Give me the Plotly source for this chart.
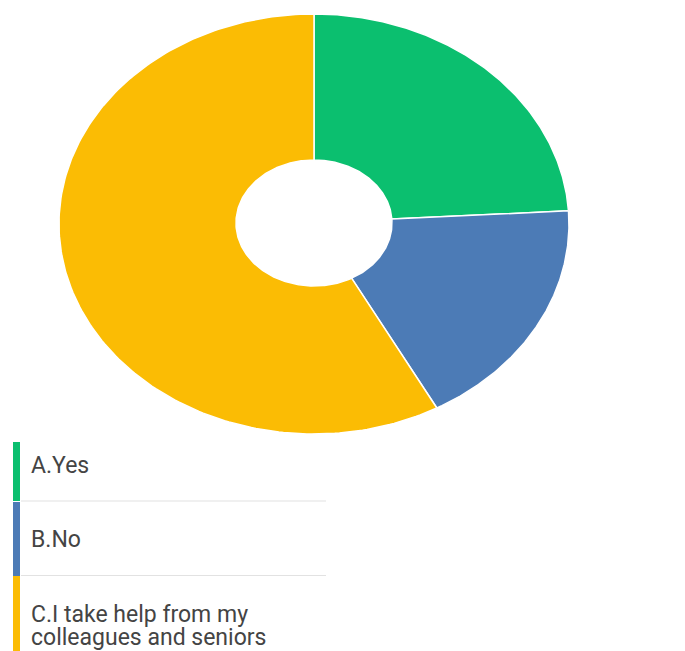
import numpy as np
import plotly.graph_objects as go

# Survey answers and their shares (percent)
labels = ["A.Yes", "B.No", "C.I take help from my colleagues and seniors"]
label_lines = [["A.Yes"], ["B.No"], ["C.I take help from my", "colleagues and seniors"]]
values = [24, 18, 58]
colors = ["#0BBF6F", "#4C7BB6", "#FBBC04"]

W, H = 685, 651
# Elliptical donut geometry (pixel space)
cx, cy = 314, 224
rx, ry = 255, 210
hole = 0.3

fig = go.Figure()

total = float(sum(values))
start = 0.0
for lab, val, col in zip(labels, values, colors):
    span = 2 * np.pi * val / total
    t = np.linspace(start, start + span, 200)
    xo = cx + rx * np.sin(t)
    yo = cy - ry * np.cos(t)
    tr = t[::-1]
    xi = cx + hole * rx * 1.02 * np.sin(tr)
    yi = cy - 1.0 - hole * ry * np.cos(tr)
    xs = np.concatenate([xo, xi, xo[:1]])
    ys = np.concatenate([yo, yi, yo[:1]])
    fig.add_trace(go.Scatter(
        x=xs, y=ys, mode="lines", fill="toself", fillcolor=col,
        line=dict(color="#FFFFFF", width=1.5), name=lab,
        hoverinfo="skip", showlegend=False,
    ))
    start += span

# Legend column: colour bars, separators and labels
rows = [(442, 501), (502, 576), (576, 651)]
shapes = []
annotations = []
for (y0, y1), col in zip(rows, colors):
    shapes.append(dict(type="rect", xref="x", yref="y", x0=13, x1=20, y0=y0, y1=y1,
                       fillcolor=col, line=dict(width=0), layer="above"))
for ys in (501, 575.5):
    shapes.append(dict(type="line", xref="x", yref="y", x0=21, x1=326, y0=ys, y1=ys,
                       line=dict(color="#E2E2E2", width=1.2), layer="above"))

line_y = [[465], [539], [614, 637.5]]
for lines, ys in zip(label_lines, line_y):
    for txt, yy in zip(lines, ys):
        annotations.append(dict(
            x=28.5, y=yy, xref="x", yref="y", text=txt, showarrow=False,
            xanchor="left", yanchor="middle", align="left",
            font=dict(family="Roboto", size=23, color="#444444"),
        ))

fig.update_layout(
    width=W, height=H,
    margin=dict(l=0, r=0, t=0, b=0),
    paper_bgcolor="white", plot_bgcolor="white",
    xaxis=dict(range=[0, W], visible=False, fixedrange=True),
    yaxis=dict(range=[H, 0], visible=False, fixedrange=True),
    shapes=shapes, annotations=annotations,
    showlegend=False,
)

fig.write_html("out.html")
